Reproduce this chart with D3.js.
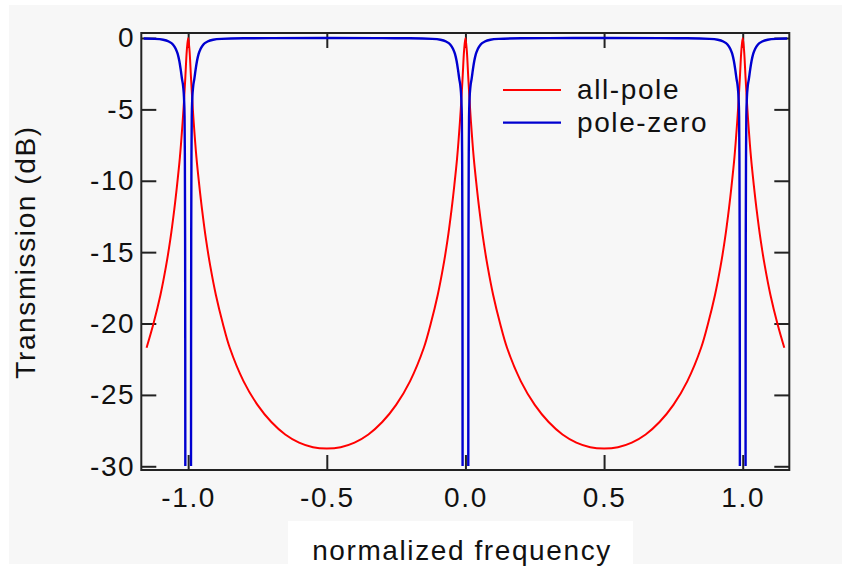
<!DOCTYPE html>
<html>
<head>
<meta charset="utf-8">
<script src="https://cdn.jsdelivr.net/npm/d3@7"></script>
<style>
  body { margin: 0; background: #fff; }
  svg { display: block; font-family: "Liberation Sans", Arial, Helvetica, sans-serif; }
</style>
</head>
<body>
<svg class="chart" width="843" height="567"></svg>
<script>
// values
var xTicks = [-1, -0.5, 0, 0.5, 1];
var xTickLabels = ["-1.0", "-0.5", "0.0", "0.5", "1.0"];
var yTicks = [0, -5, -10, -15, -20, -25, -30];
var yTickLabels = ["0", "-5", "-10", "-15", "-20", "-25", "-30"];

var seriesNames = ["all-pole", "pole-zero"];
var seriesColors = ["#ff0000", "#0000d0"];

// all-pole response (dB)
var redX = [-1.15, -1.125, -1.1, -1.08, -1.065, -1.05, -1.04, -1.03, -1.02, -1.015, -1.01, -1.005, -1.0,
  -0.995, -0.99, -0.985, -0.98, -0.97, -0.96, -0.95, -0.935, -0.92, -0.9, -0.875, -0.85, -0.8, -0.75, -0.7,
  -0.65, -0.6, -0.55, -0.5, -0.45, -0.4, -0.35, -0.3, -0.25, -0.2, -0.15, -0.125, -0.1, -0.08, -0.065, -0.05,
  -0.04, -0.03, -0.02, -0.015, -0.01, -0.005, 0,
  0.005, 0.01, 0.015, 0.02, 0.03, 0.04, 0.05, 0.065, 0.08, 0.1, 0.125, 0.15, 0.2, 0.25, 0.3, 0.35, 0.4, 0.45,
  0.5, 0.55, 0.6, 0.65, 0.7, 0.75, 0.8, 0.85, 0.875, 0.9, 0.92, 0.935, 0.95, 0.96, 0.97, 0.98, 0.985, 0.99,
  0.995, 1.0, 1.005, 1.01, 1.015, 1.02, 1.03, 1.04, 1.05, 1.065, 1.08, 1.1, 1.125, 1.15];
var redDb = [-21.7, -20.0, -18.0, -16.0, -14.2, -12.0, -10.3, -8.4, -5.9, -4.4, -2.7, -0.9, 0,
  -0.9, -2.7, -4.4, -5.9, -8.4, -10.3, -12.0, -14.2, -16.0, -18.0, -20.0, -21.7, -24.05, -25.7, -26.9,
  -27.77, -28.34, -28.66, -28.75, -28.66, -28.34, -27.77, -26.9, -25.7, -24.05, -21.7, -20.0, -18.0, -16.0, -14.2, -12.0,
  -10.3, -8.4, -5.9, -4.4, -2.7, -0.9, 0,
  -0.9, -2.7, -4.4, -5.9, -8.4, -10.3, -12.0, -14.2, -16.0, -18.0, -20.0, -21.7, -24.05, -25.7, -26.9, -27.77, -28.34, -28.66,
  -28.75, -28.66, -28.34, -27.77, -26.9, -25.7, -24.05, -21.7, -20.0, -18.0, -16.0, -14.2, -12.0, -10.3, -8.4, -5.9, -4.4, -2.7,
  -0.9, 0, -0.9, -2.7, -4.4, -5.9, -8.4, -10.3, -12.0, -14.2, -16.0, -18.0, -20.0, -21.7];

// pole-zero response (dB), notches run off the bottom
var blueX = [-1.16, -1.12, -1.09, -1.07, -1.055, -1.045, -1.038, -1.032, -1.027, -1.022, -1.018, -1.015, -1.013,
  -1.012, -1.011, -1.0105, -1.0102, -1.0, -0.9898, -0.9895, -0.989, -0.988, -0.987, -0.985, -0.982, -0.978,
  -0.973, -0.968, -0.962, -0.955, -0.945, -0.93, -0.91, -0.88, -0.8, -0.7, -0.5, -0.3, -0.2, -0.12, -0.09,
  -0.07, -0.055, -0.045, -0.038, -0.032, -0.027, -0.022, -0.018, -0.015, -0.013, -0.012, -0.011, -0.0105,
  -0.0102, 0, 0.0102, 0.0105, 0.011, 0.012, 0.013, 0.015, 0.018, 0.022, 0.027, 0.032, 0.038, 0.045, 0.055,
  0.07, 0.09, 0.12, 0.2, 0.3, 0.5, 0.7, 0.8, 0.88, 0.91, 0.93, 0.945, 0.955, 0.962, 0.968, 0.973, 0.978,
  0.982, 0.985, 0.987, 0.988, 0.989, 0.9895, 0.9898, 1.0, 1.0102, 1.0105, 1.011, 1.012, 1.013, 1.015, 1.018,
  1.022, 1.027, 1.032, 1.038, 1.045, 1.055, 1.07, 1.09, 1.12, 1.16];
var blueDb = [-0.04, -0.06, -0.12, -0.25, -0.45, -0.75, -1.1, -1.6, -2.2, -2.9, -3.4, -4.2, -5.5,
  -8, -14, -22, -32, -40, -32, -22, -14, -8, -5.5, -4.2, -3.4, -2.9,
  -2.2, -1.6, -1.1, -0.75, -0.45, -0.25, -0.12, -0.06, -0.02, -0.01, 0, -0.01, -0.02, -0.06, -0.12,
  -0.25, -0.45, -0.75, -1.1, -1.6, -2.2, -2.9, -3.4, -4.2, -5.5, -8, -14, -22,
  -32, -40, -32, -22, -14, -8, -5.5, -4.2, -3.4, -2.9, -2.2, -1.6, -1.1, -0.75, -0.45,
  -0.25, -0.12, -0.06, -0.02, -0.01, 0, -0.01, -0.02, -0.06, -0.12, -0.25, -0.45, -0.75, -1.1, -1.6, -2.2, -2.9,
  -3.4, -4.2, -5.5, -8, -14, -22, -32, -40, -32, -22, -14, -8, -5.5, -4.2, -3.4,
  -2.9, -2.2, -1.6, -1.1, -0.75, -0.45, -0.25, -0.12, -0.06, -0.04];

var svg = d3.select(".chart");
var plotLeft = 141.3, plotRight = 789.3, plotTop = 33, plotBottom = 470;
var fontSize = 28, spacing = 1.6;

// backdrop
svg.append('rect').attr('x', 9).attr('y', 5).attr('width', 833).attr('height', 559).attr('fill', '#f7f7f7');
svg.append('rect').attr('x', 288).attr('y', 521).attr('width', 345).attr('height', 46).attr('fill', '#ffffff');

var x = d3.scaleLinear().domain([-1.169, 1.168]).range([plotLeft, plotRight]);
var y = d3.scaleLinear().domain([-30.26, 0.35]).range([plotBottom, plotTop]);

function styleAxis(g) {
    g.select('.domain').remove();
    g.selectAll('.tick line').attr('stroke', '#222').attr('stroke-width', 2);
    g.selectAll('.tick text')
        .attr('fill', '#111')
        .style('font-size', fontSize + 'px')
        .style('letter-spacing', spacing + 'px');
}

svg.append('g').attr('transform', 'translate(0,' + plotBottom + ')')
    .call(d3.axisBottom(x).tickValues(xTicks).tickSizeInner(-15).tickSizeOuter(0).tickPadding(17)
        .tickFormat((d, i) => xTickLabels[i]))
    .call(styleAxis);
svg.append('g').attr('transform', 'translate(0,' + plotTop + ')')
    .call(d3.axisTop(x).tickValues(xTicks).tickSizeInner(-15).tickSizeOuter(0).tickFormat(''))
    .call(styleAxis);
svg.append('g').attr('transform', 'translate(' + plotLeft + ',0)')
    .call(d3.axisLeft(y).tickValues(yTicks).tickSizeInner(-15).tickSizeOuter(0).tickPadding(6)
        .tickFormat((d, i) => yTickLabels[i]))
    .call(styleAxis);
svg.append('g').attr('transform', 'translate(' + plotRight + ',0)')
    .call(d3.axisRight(y).tickValues(yTicks).tickSizeInner(-15).tickSizeOuter(0).tickFormat(''))
    .call(styleAxis);

svg.append('rect')
    .attr('x', plotLeft).attr('y', plotTop)
    .attr('width', plotRight - plotLeft).attr('height', plotBottom - plotTop)
    .attr('fill', 'none').attr('stroke', '#222').attr('stroke-width', 2);

// curves
svg.append('clipPath').attr('id', 'plot')
    .append('rect').attr('x', plotLeft).attr('y', plotTop)
    .attr('width', plotRight - plotLeft).attr('height', plotBottom - plotTop - 4);

var curves = [d3.curveCatmullRom.alpha(0.5), d3.curveMonotoneX];
var series = [d3.zip(redX, redDb), d3.zip(blueX, blueDb)];

var g = svg.append('g').attr('clip-path', 'url(#plot)');
series.forEach(function(points, i) {
    var line = d3.line()
        .x(d => x(d[0]))
        .y(d => y(d[1]))
        .curve(curves[i]);
    g.append('path')
        .attr('d', line(points))
        .attr('fill', 'none')
        .attr('stroke', seriesColors[i])
        .attr('stroke-width', i == 0 ? 2 : 2.4);
});

// legend
var legend = svg.append('g').attr('transform', 'translate(503,90)');
seriesNames.forEach(function(name, i) {
    legend.append('line')
        .attr('x1', 0).attr('x2', 58)
        .attr('y1', i * 32.7).attr('y2', i * 32.7)
        .attr('stroke', seriesColors[i]).attr('stroke-width', 2.2);
    legend.append('text')
        .attr('x', 74).attr('y', i * 32.7 + 9)
        .attr('fill', '#111')
        .style('font-size', fontSize + 'px')
        .style('letter-spacing', spacing + 'px')
        .text(name);
});

// titles
svg.append('text')
    .attr('transform', 'translate(35,252) rotate(-90)')
    .attr('text-anchor', 'middle')
    .attr('fill', '#111')
    .style('font-size', fontSize + 'px')
    .style('letter-spacing', spacing + 'px')
    .text('Transmission (dB)');

svg.append('text')
    .attr('x', 462).attr('y', 560)
    .attr('text-anchor', 'middle')
    .attr('fill', '#111')
    .style('font-size', fontSize + 'px')
    .style('letter-spacing', spacing + 'px')
    .text('normalized frequency');
</script>
</body>
</html>
